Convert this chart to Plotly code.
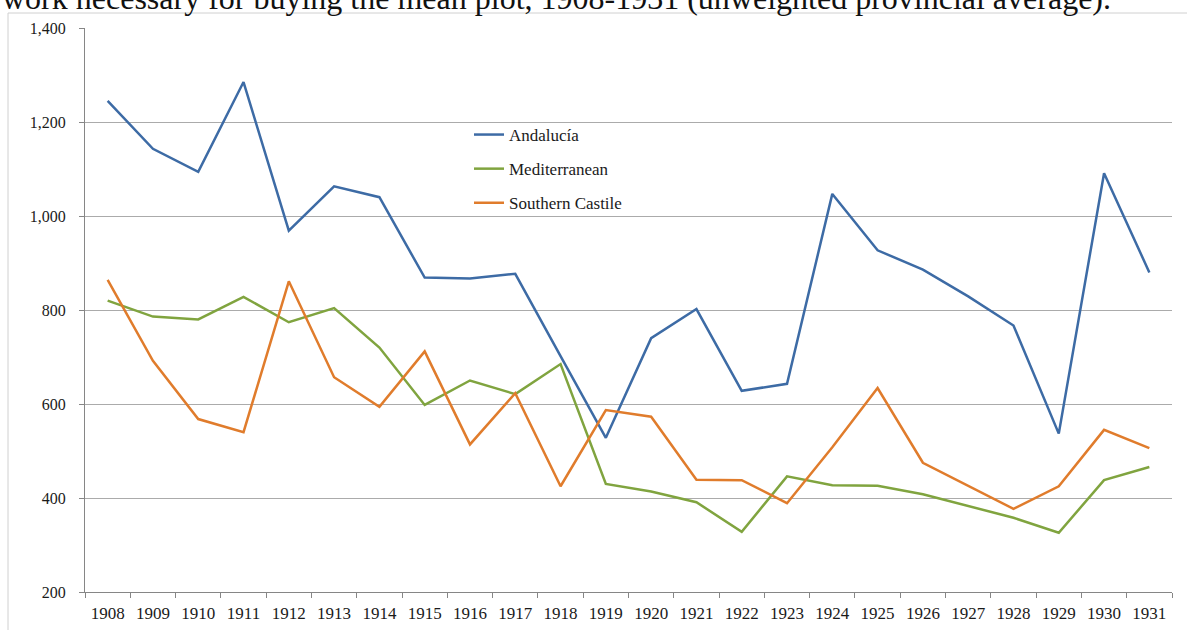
import plotly.graph_objects as go

years = [str(y) for y in range(1908, 1932)]
andalucia = [1245, 1143, 1094, 1285, 969, 1063, 1040, 869, 867, 877, 702, 528,
             740, 802, 628, 643, 1047, 927, 886, 829, 767, 537, 1091, 880]
mediterranean = [820, 786, 780, 828, 774, 804, 720, 598, 650, 621, 685, 430,
                 414, 391, 328, 446, 427, 426, 408, 383, 358, 326, 438, 466]
southern_castile = [864, 692, 568, 540, 861, 657, 594, 712, 514, 623, 425, 587,
                    573, 439, 438, 389, 508, 634, 475, 426, 377, 425, 545, 506]

series = [
    ("Andalucía", andalucia, "#3d6ba5"),
    ("Mediterranean", mediterranean, "#80a43f"),
    ("Southern Castile", southern_castile, "#e07c2c"),
]

FONT = "Liberation Serif"
W, H = 1187, 630
L, R, T, B = 85, 15, 28, 38
pw, ph = W - L - R, H - T - B

fig = go.Figure()
for i, (name, vals, col) in enumerate(series):
    fig.add_trace(go.Scatter(
        x=years, y=vals, mode="lines", name=name,
        line=dict(color=col, width=2.5), legendgroup=f"g{i}",
    ))

def px_x(p):
    return (p - L) / pw

def px_y(p):
    return (H - B - p) / ph

fig.update_layout(
    width=W, height=H,
    margin=dict(l=L, r=R, t=T, b=B, autoexpand=False),
    paper_bgcolor="white", plot_bgcolor="white",
    font=dict(family=FONT, color="#1a1a1a", size=16),
    showlegend=True,
    legend=dict(
        x=px_x(469), y=px_y(117), xanchor="left", yanchor="top",
        bgcolor="rgba(0,0,0,0)", font=dict(family=FONT, size=17, color="#1a1a1a"),
        tracegroupgap=9, traceorder="grouped",
    ),
    xaxis=dict(
        type="category", range=[-0.5, 23.5], automargin=False,
        showline=True, linecolor="#868686", linewidth=1,
        ticks="outside", tickson="boundaries", ticklen=5, tickcolor="#868686",
        showgrid=False, tickfont=dict(family=FONT, size=17, color="#1a1a1a"),
        ticklabelstandoff=6, fixedrange=True,
    ),
    yaxis=dict(
        range=[200, 1400], dtick=200, tickformat=",", automargin=False,
        showline=True, linecolor="#868686", linewidth=1,
        ticks="outside", ticklen=5, tickcolor="#868686",
        showgrid=True, gridcolor="#ababab", gridwidth=1,
        tickfont=dict(family=FONT, size=16, color="#1a1a1a"),
        ticklabelstandoff=10, zeroline=False, fixedrange=True,
    ),
    shapes=[dict(
        type="rect", xref="paper", yref="paper",
        x0=px_x(8), x1=px_x(W + 5), y0=px_y(H + 5), y1=px_y(13),
        line=dict(color="#d0d0d0", width=1), fillcolor="rgba(0,0,0,0)", layer="below",
    )],
    annotations=[dict(
        text="work necessary for buying the mean plot, 1908-1931 (unweighted provincial average).",
        xref="paper", yref="paper", x=px_x(0), y=px_y(18), xanchor="left", yanchor="bottom",
        showarrow=False, font=dict(family=FONT, size=32, color="#111111"),
    )],
)

fig.write_html("out.html", config={"displayModeBar": False},
               post_script="document.body.style.margin='0';")
